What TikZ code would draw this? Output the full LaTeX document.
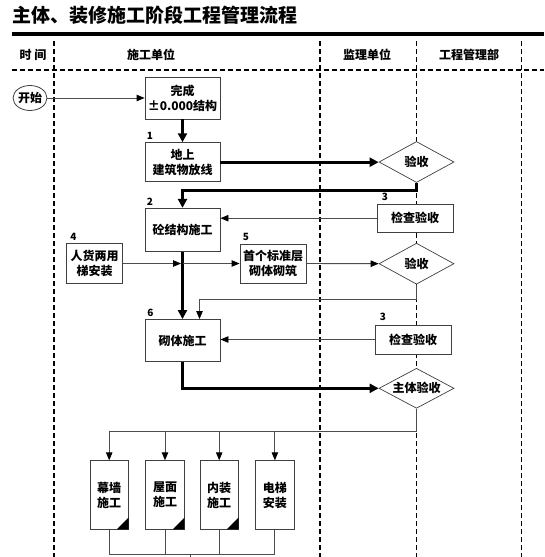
\documentclass[tikz,border=0pt]{standalone}
\usepackage{fontspec}
\setmainfont{Noto Sans CJK SC}
\usetikzlibrary{arrows.meta,shapes.geometric}
\tikzset{
  box/.style={draw=black!75, line width=0.9pt, fill=white, inner sep=0pt, align=center,
    font=\fontsize{12}{15}\selectfont\bfseries},
  dia/.style={diamond, draw=black!75, line width=0.7pt, fill=white, inner sep=0pt, aspect=1.8,
    minimum width=75pt, minimum height=41pt, font=\fontsize{12}{15}\selectfont\bfseries},
  conn/.style={draw=black!70, line width=0.9pt, -{Triangle[length=8pt,width=6.5pt,color=black]}},
  plain/.style={draw=black!70, line width=0.9pt},
  heavy/.style={draw=black, line width=3pt, -{Triangle[length=9pt,width=9pt]}},
  lane/.style={draw=black, line width=1.4pt, dash pattern=on 5pt off 3pt},
  num/.style={font=\fontsize{10}{10}\selectfont\bfseries, inner sep=1pt, anchor=south west},
  hdr/.style={font=\fontsize{12}{14}\selectfont\bfseries},
  tall/.style={box, minimum width=38.5pt, minimum height=68.5pt},
}
\begin{document}
\begin{tikzpicture}[x=1pt,y=-1pt]
\fill[white] (0,0) rectangle (544,557);
\useasboundingbox (0,0) rectangle (544,557);

% title and header
\node[anchor=west, inner sep=0pt, font=\fontsize{19}{22}\selectfont\bfseries] (title) at (12,15.6) {主体、装修施工阶段工程管理流程};
\coordinate (tl) at (11.7,34); \coordinate (tr) at (544,34);
\draw[line width=3.3pt] (tl) -- (tr);
\coordinate (hl) at (11.7,70); \coordinate (hr2) at (544,70);
\draw[lane] (hl) -- (hr2);
\foreach \x/\n in {54/a,320/b,416.5/c,521.7/d}{
  \coordinate (v\n t) at (\x,41);
  \coordinate (v\n b) at (\x,557);
  \draw[lane] (v\n t) -- (v\n b);
}
\node[hdr] (h1) at (33,55) {时\ 间};
\node[hdr] (h2) at (151,55) {施工单位};
\node[hdr] (h3) at (367,55) {监理单位};
\node[hdr] (h4) at (469,55) {工程管理部};

% nodes
\node[ellipse, draw=black!75, line width=0.8pt, fill=white, inner sep=0pt, minimum width=29pt, minimum height=25pt,
  font=\fontsize{12}{14}\selectfont\bfseries] (start) at (30,98) {开始};
\node[box, minimum width=75pt, minimum height=42pt] (wc) at (182.5,98) {完成\\±0.000结构};
\node[box, minimum width=75pt, minimum height=39pt] (b1) at (182.5,162.2) {地上\\建筑物放线};
\node[box, minimum width=75pt, minimum height=43pt] (b2) at (182.5,229.8) {砼结构施工};
\node[box, minimum width=56pt, minimum height=40pt] (hr) at (94.7,263.5) {人货两用\\梯安装};
\node[box, minimum width=66pt, minimum height=39pt] (sg) at (273,263.5) {首个标准层\\砌体砌筑};
\node[box, minimum width=75pt, minimum height=42pt] (b6) at (182.5,340.5) {砌体施工};
\node[box, minimum width=76pt, minimum height=28.5pt] (jc1) at (415,218.2) {检查验收};
\node[box, minimum width=76pt, minimum height=29pt] (jc2) at (413,339.5) {检查验收};
\node[dia] (d1) at (416.5,162) {验收};
\node[dia] (d2) at (416.5,263.7) {验收};
\node[dia, minimum height=40pt] (d3) at (416.5,388.3) {主体验收};
\node[tall] (m1) at (109.2,495) {幕墙\\施工};
\node[tall] (m2) at (165,495) {屋面\\施工};
\node[tall] (m3) at (219.2,495) {内装\\施工};
\node[tall] (m4) at (274.9,495) {电梯\\安装};
\foreach \m in {m1,m2,m3}{
  \fill ([xshift=-0.4pt,yshift=0.4pt]\m.south east) -- ([xshift=-12pt,yshift=0.4pt]\m.south east) -- ([xshift=-0.4pt,yshift=12pt]\m.south east) -- cycle;
}

% step numbers
\node[num] (n1) at ([xshift=1pt,yshift=1.5pt]b1.north west) {1};
\node[num] (n2) at ([xshift=1pt,yshift=1.5pt]b2.north west) {2};
\node[num] (n3a) at ([xshift=4pt,yshift=1.5pt]jc1.north west) {3};
\node[num] (n4) at ([xshift=3pt,yshift=1.5pt]hr.north west) {4};
\node[num] (n5) at ([xshift=2pt,yshift=1.5pt]sg.north west) {5};
\node[num] (n6) at ([xshift=1.5pt,yshift=1pt]b6.north west) {6};
\node[num] (n3b) at ([xshift=4pt,yshift=3pt]jc2.north west) {3};

% connectors
\draw[conn] (start.east) -- (wc.west);
\draw[heavy] (wc.south) -- (b1.north);
\draw[heavy] (b1.east) -- (b1.east -| d1.west);
\draw[heavy] (d1.south) -- ([yshift=-7.5pt]d1.south) -| (b2.north);
\draw[conn] (jc1.west) -- (jc1.west -| b2.east);
\draw[heavy] (b2.south) -- (b6.north);
\coordinate (j1) at (hr.east -| b2.south);
\draw[conn, shorten >=1.5pt] (hr.east) -- (j1);
\draw[conn] (j1) -- (sg.west);
\draw[conn] (sg.east) -- (d2.west);
\coordinate (fb) at ([xshift=17pt]b6.north);
\draw[conn] (d2.south) -- ([yshift=-15pt]d2.south) -| (fb);
\draw[conn] (jc2.west) -- (jc2.west -| b6.east);
\draw[heavy] (b6.south) |- (d3.west);
\coordinate (split) at (416.5,431);
\draw[conn] (d3.south) -- (split) -| (m1.north);
\draw[conn] (m2.north |- split) -- (m2.north);
\draw[conn] (m3.north |- split) -- (m3.north);
\draw[conn] (m4.north |- split) -- (m4.north);
\coordinate (join) at (190.7,554.3);
\coordinate (exit) at (190.7,560);
\draw[plain] (m1.south) -- (m1.south |- join) -- (m4.south |- join) -- (m4.south);
\draw[plain] (m2.south) -- (m2.south |- join);
\draw[plain] (m3.south) -- (m3.south |- join);
\draw[plain] (join) -- (exit);
\end{tikzpicture}
\end{document}
